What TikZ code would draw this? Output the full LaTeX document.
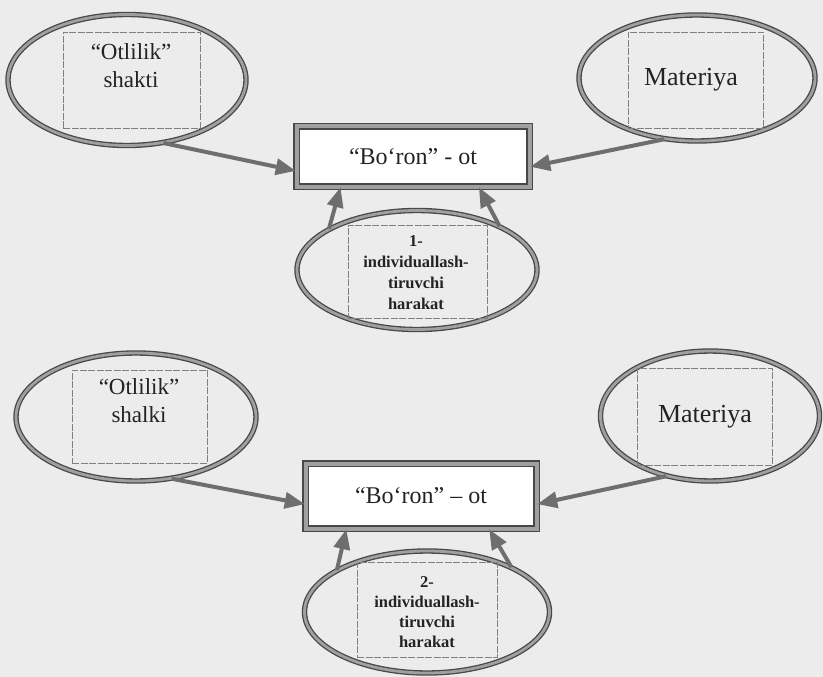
\documentclass[tikz,border=0pt]{standalone}
\usepackage{fontspec}
\setmainfont{Liberation Serif}
\usetikzlibrary{shapes.geometric,arrows.meta}
\definecolor{paper}{RGB}{236,236,236}
\definecolor{ink}{RGB}{72,72,72}
\definecolor{mid}{RGB}{160,160,160}
\definecolor{arrc}{RGB}{110,110,110}
\definecolor{txt}{RGB}{35,35,35}
\begin{document}
\begin{tikzpicture}[x=1pt,y=-1pt,
  ell/.style={ellipse, draw=ink, line width=1.3pt, double=mid, double distance=2.8pt, inner sep=0pt},
  tbox/.style={rectangle, draw=gray, line width=0.6pt, dash pattern=on 7pt off 1.5pt, inner sep=0pt},
  bigbox/.style={rectangle, draw=ink, line width=1.5pt, double=mid, double distance=4pt, fill=white, inner sep=0pt, font=\fontsize{24}{28}\selectfont, text=txt},
  biglbl/.style={font=\fontsize{26}{30}\selectfont, text=txt, inner sep=0pt},
  midlbl/.style={font=\fontsize{23}{28}\selectfont, text=txt, align=center, inner sep=0pt},
  smalllbl/.style={font=\bfseries\fontsize{16.5}{21}\selectfont, text=txt, align=center, inner sep=0pt},
  arr/.style={draw=arrc, line width=4pt, -{Triangle[length=20pt,width=16pt]}, fill=arrc}
]
\useasboundingbox (0,0) rectangle (823,677);
\fill[paper] (0,0) rectangle (823,677);

% ---------- top diagram ----------
\node[ell, minimum width=238pt, minimum height=131pt] (tlE) at (127,80) {};
\node[tbox, minimum width=137pt, minimum height=96pt] (tlB) at (131.5,80) {};
\node[midlbl] (tlT) at (131,66) {“Otlilik”\\shakti};

\node[ell, minimum width=236pt, minimum height=126pt] (trE) at (697,78) {};
\node[tbox, minimum width=135pt, minimum height=96pt] (trB) at (695.5,80) {};
\node[biglbl] (trT) at (691,80) {Materiya};

\node[bigbox, minimum width=233pt, minimum height=60pt] (boxA) at (413,156.5) {“Bo‘ron” - ot};

\node[ell, minimum width=240pt, minimum height=119pt] (mE1) at (417,270) {};
\node[tbox, minimum width=139pt, minimum height=93pt] (mB1) at (417.5,271.5) {};
\node[smalllbl] (mT1) at (416,273) {1-\\individuallash-\\tiruvchi\\harakat};

\draw[arr] (tlE.-60) -- (boxA.187);
\draw[arr] (trE.-118) -- (boxA.-5);
\draw[arr] (mE1.155) -- (boxA.-157);
\draw[arr] (mE1.28) -- (boxA.-25);

% ---------- bottom diagram ----------
\node[ell, minimum width=240pt, minimum height=128pt] (blE) at (136,417) {};
\node[tbox, minimum width=135pt, minimum height=93pt] (blB) at (139.5,416.5) {};
\node[midlbl] (blT) at (139,401) {“Otlilik”\\shalki};

\node[ell, minimum width=219pt, minimum height=130pt] (brE) at (710,416) {};
\node[tbox, minimum width=135pt, minimum height=97pt] (brB) at (704.5,416.5) {};
\node[biglbl] (brT) at (705,417) {Materiya};

\node[bigbox, minimum width=231pt, minimum height=65pt] (boxB) at (421,496) {“Bo‘ron” – ot};

\node[ell, minimum width=245pt, minimum height=122pt] (mE2) at (427,612) {};
\node[tbox, minimum width=140pt, minimum height=95pt] (mB2) at (427,609.5) {};
\node[smalllbl, font=\bfseries\fontsize{16.5}{20}\selectfont] (mT2) at (427,612) {2-\\individuallash-\\tiruvchi\\harakat};

\draw[arr] (blE.-60) -- (boxB.184);
\draw[arr] (brE.-126) -- (boxB.-4);
\draw[arr] (mE2.155) -- (boxB.-156);
\draw[arr] (mE2.28) -- (boxB.-26);
\end{tikzpicture}
\end{document}
